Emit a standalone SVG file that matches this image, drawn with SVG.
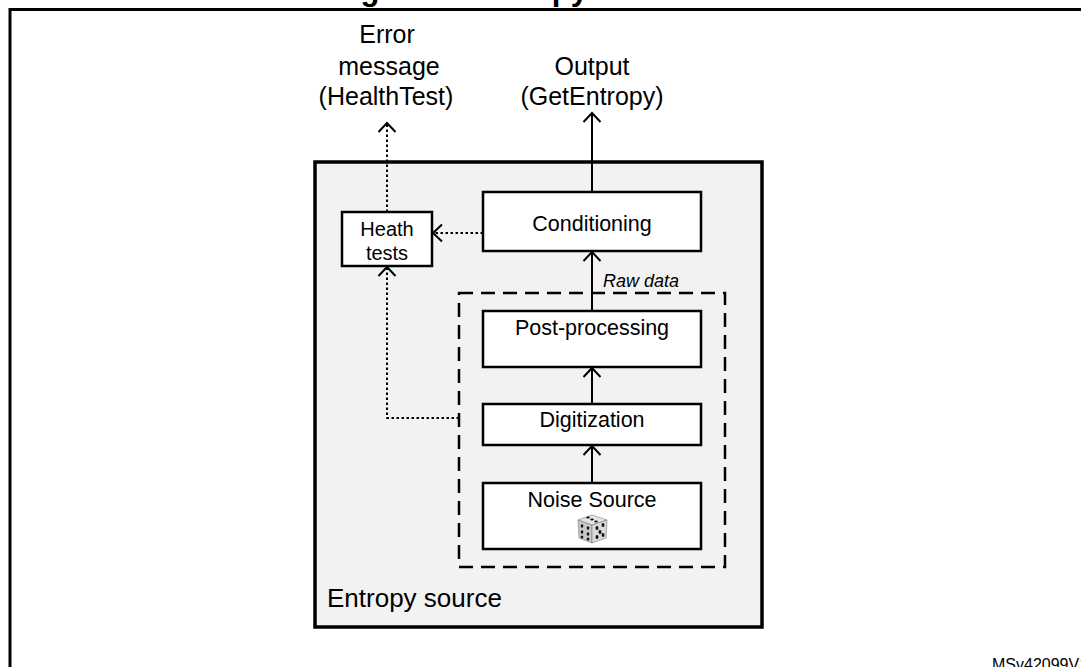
<svg xmlns="http://www.w3.org/2000/svg" width="1081" height="667" viewBox="0 0 1081 667">
<style>
  text { font-family: "Liberation Sans", Arial, sans-serif; fill: #000; }
  .lbl { font-size: 25px; text-anchor: middle; }
  .box { fill: #fff; stroke: #000; stroke-width: 2.5; }
  .in { font-size: 21.5px; text-anchor: middle; }
  .solid { fill: none; stroke: #000; stroke-width: 2; }
  .dot { fill: none; stroke: #000; stroke-width: 2; stroke-dasharray: 2.5 2.5; }
</style>
<defs>
  <marker id="arr" viewBox="-11 -11 13 22" refX="0" refY="0" markerWidth="13" markerHeight="22" markerUnits="userSpaceOnUse" orient="auto">
    <path d="M-9,-8.5 L0,0 L-9,8.5" fill="none" stroke="#000" stroke-width="2" stroke-dasharray="none"/>
  </marker>
</defs>
<rect width="1081" height="667" fill="#fff"/>

<g id="title">
  <text x="333" y="-0.5" style="font-size:31px;font-weight:bold">Figure 1. Entropy source model</text>
</g>
<g id="frame">
  <path d="M10,700 V9.5 H1100" fill="none" stroke="#000" stroke-width="3"/>
</g>

<g id="labels">
  <text class="lbl" x="387" y="43">Error</text>
  <text class="lbl" x="389" y="75">message</text>
  <text class="lbl" x="386" y="105">(HealthTest)</text>
  <text class="lbl" x="592" y="75">Output</text>
  <text class="lbl" x="592" y="105">(GetEntropy)</text>
</g>

<g id="entropy-source">
  <rect x="315" y="162" width="447" height="465" fill="#f2f2f2" stroke="#000" stroke-width="3.5"/>
  <text x="327" y="607" style="font-size:26px">Entropy source</text>
</g>

<g id="raw-data-group">
  <rect x="459" y="293" width="266" height="274" fill="none" stroke="#000" stroke-width="2.5" stroke-dasharray="14 8"/>
  <text x="603" y="287" style="font-size:18px;font-style:italic">Raw data</text>
</g>

<g id="conditioning">
  <rect class="box" x="483" y="192" width="218" height="59"/>
  <text class="in" x="592" y="231">Conditioning</text>
</g>

<g id="health-tests">
  <rect class="box" x="342" y="212" width="90" height="54"/>
  <text x="387" y="236" style="font-size:20px;text-anchor:middle">Heath</text>
  <text x="387" y="260" style="font-size:20px;text-anchor:middle">tests</text>
</g>

<g id="post-processing">
  <rect class="box" x="483" y="311" width="218" height="56"/>
  <text class="in" x="592" y="335">Post-processing</text>
</g>

<g id="digitization">
  <rect class="box" x="483" y="404" width="218" height="41"/>
  <text class="in" x="592" y="427">Digitization</text>
</g>

<g id="noise-source">
  <rect class="box" x="483" y="483" width="218" height="66"/>
  <text class="in" x="592" y="507">Noise Source</text>
  <g id="dice" stroke="#777" stroke-width="0.6">
    <polygon points="592,515 607,520 592,525 578,520" fill="#e6e6e6"/>
    <polygon points="578,520 592,525 592,543 579,538" fill="#c8c8c8"/>
    <polygon points="592,525 607,520 606,538 592,543" fill="#dadada"/>
    <g fill="#111" stroke="none">
      <ellipse cx="588" cy="517.5" rx="1.8" ry="0.9"/>
      <ellipse cx="592" cy="519.5" rx="1.8" ry="0.9"/>
      <ellipse cx="596" cy="521.5" rx="1.8" ry="0.9"/>
      <ellipse cx="582" cy="526" rx="1.3" ry="1.8"/>
      <ellipse cx="588" cy="528" rx="1.3" ry="1.8"/>
      <ellipse cx="582" cy="532" rx="1.3" ry="1.8"/>
      <ellipse cx="588" cy="534" rx="1.3" ry="1.8"/>
      <ellipse cx="582" cy="537" rx="1.3" ry="1.6"/>
      <ellipse cx="588" cy="539" rx="1.3" ry="1.6"/>
      <ellipse cx="597" cy="528" rx="1.5" ry="2"/>
      <ellipse cx="603" cy="525" rx="1.5" ry="2"/>
      <ellipse cx="600" cy="532" rx="1.5" ry="2"/>
      <ellipse cx="597" cy="537" rx="1.5" ry="2"/>
      <ellipse cx="603" cy="535" rx="1.5" ry="2"/>
    </g>
  </g>
</g>

<g id="connectors">
  <line class="solid" x1="592" y1="192" x2="592" y2="113" marker-end="url(#arr)"/>
  <line class="dot" x1="387" y1="212" x2="387" y2="123" marker-end="url(#arr)"/>
  <line class="dot" x1="483" y1="233" x2="433" y2="233" marker-end="url(#arr)"/>
  <path class="dot" d="M459,418 H387 V267" marker-end="url(#arr)"/>
  <line class="solid" x1="592" y1="311" x2="592" y2="252" marker-end="url(#arr)"/>
  <line class="solid" x1="592" y1="404" x2="592" y2="368" marker-end="url(#arr)"/>
  <line class="solid" x1="592" y1="483" x2="592" y2="446" marker-end="url(#arr)"/>
</g>

<g id="ref-code">
  <text x="992" y="670" style="font-size:16px">MSv42099V1</text>
</g>
</svg>
